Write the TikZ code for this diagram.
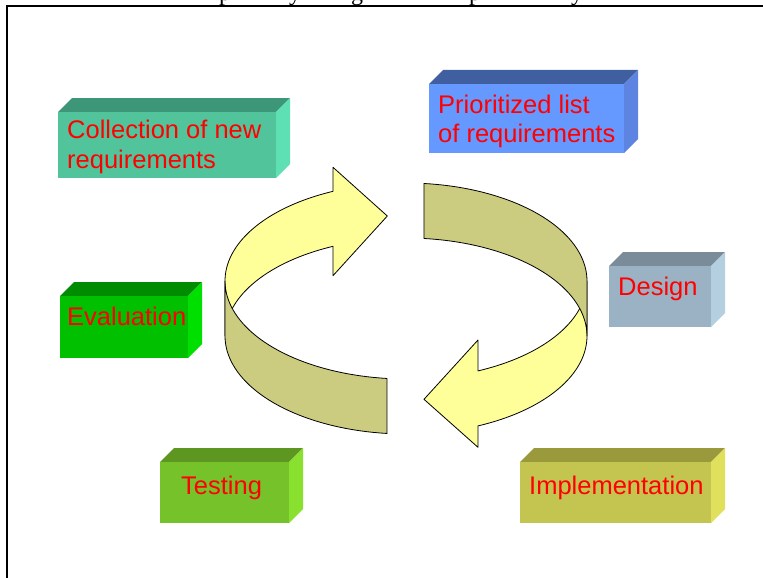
\documentclass[tikz,border=0pt]{standalone}
\usepackage{fontspec}
\setmainfont{Liberation Sans}
\newfontfamily\titlerm{Liberation Serif}
\definecolor{collF}{RGB}{82,196,156}
\definecolor{collT}{RGB}{62,150,120}
\definecolor{collS}{RGB}{94,224,180}
\definecolor{prioF}{RGB}{102,153,255}
\definecolor{prioT}{RGB}{63,95,160}
\definecolor{prioS}{RGB}{92,132,224}
\definecolor{desF}{RGB}{155,178,196}
\definecolor{desT}{RGB}{122,140,153}
\definecolor{desS}{RGB}{180,208,224}
\definecolor{evalF}{RGB}{0,192,0}
\definecolor{evalT}{RGB}{0,140,0}
\definecolor{evalS}{RGB}{0,224,0}
\definecolor{testF}{RGB}{118,194,42}
\definecolor{testT}{RGB}{94,150,34}
\definecolor{testS}{RGB}{138,224,46}
\definecolor{implF}{RGB}{196,196,80}
\definecolor{implT}{RGB}{154,154,60}
\definecolor{implS}{RGB}{224,224,92}
\definecolor{ribbonY}{RGB}{255,255,153}
\definecolor{ribbonO}{RGB}{204,204,128}
\tikzset{
  lbl/.style={anchor=base west, inner sep=0pt, text=red, font=\fontsize{25.5}{29}\selectfont},
  band/.style={draw=black, line width=0.8pt, line join=round},
  frontface/.style={anchor=north west, inner sep=0pt, outer sep=0pt}
}
% #1 name, #2 x1, #3 y1, #4 x2, #5 y2, #6 front, #7 top, #8 side
\newcommand\cuboidbox[8]{%
  \fill[#7] (#2,#3) -- (#2+14,#3-14) -- (#4+14,#3-14) -- (#4,#3) -- cycle;
  \fill[#8] (#4,#3) -- (#4+14,#3-14) -- (#4+14,#5-14) -- (#4,#5) -- cycle;
  \node[frontface, fill=#6, minimum width=#4pt-#2pt, minimum height=#5pt-#3pt] (#1) at (#2,#3) {};
}
\begin{document}
\begin{tikzpicture}[x=1pt,y=-1pt]
\useasboundingbox (0,0) rectangle (763,578);
\fill[white] (0,0) rectangle (763,578);

% cut-off title descenders
\begin{scope}
\clip (0,0) rectangle (763,20);
\node[anchor=base west, inner sep=0pt, font=\titlerm\fontsize{24}{28}\selectfont] (t1) at (219,1) {p};
\node[anchor=base west, inner sep=0pt, font=\titlerm\fontsize{24}{28}\selectfont] (t2) at (289,1) {y};
\node[anchor=base west, inner sep=0pt, font=\titlerm\fontsize{24}{28}\selectfont] (t3) at (351,1) {g};
\node[anchor=base west, inner sep=0pt, font=\titlerm\fontsize{24}{28}\selectfont] (t4) at (469,1) {p};
\node[anchor=base west, inner sep=0pt, font=\titlerm\fontsize{24}{28}\selectfont] (t5) at (571,1) {y};
\end{scope}

% frame
\draw[line width=2pt] (7,600) -- (7,6) -- (780,6);

% boxes
\cuboidbox{coll}{58}{112}{276}{178}{collF}{collT}{collS}
\cuboidbox{prio}{429}{84}{624}{153}{prioF}{prioT}{prioS}
\cuboidbox{des}{609}{266}{711}{327}{desF}{desT}{desS}
\cuboidbox{eval}{60}{296}{188}{358}{evalF}{evalT}{evalS}
\cuboidbox{test}{160}{462}{289}{523}{testF}{testT}{testS}
\cuboidbox{impl}{520}{462}{711}{523}{implF}{implT}{implS}

\node[lbl] (collA) at (67,138) {Collection of new};
\node[lbl] (collB) at (67,168) {requirements};
\node[lbl] (prioA) at (438,113) {Prioritized list};
\node[lbl] (prioB) at (438,142) {of requirements};
\node[lbl] (desL) at (618,295) {Design};
\node[lbl] (evalL) at (67,325) {Evaluation};
\node[lbl] (testL) at (181,494) {Testing};
\node[lbl] (implL) at (529,494) {Implementation};

% circular ribbon arrows: ellipse centre (406,281), a=181, b=98, wall height 55
\draw[band, fill=ribbonY]
  plot[domain=113.79:180, samples=40] ({406+181*cos(\x)},{281-98*sin(\x)})
  -- (225,336)
  -- plot[domain=180:113.79, samples=40] ({406+181*cos(\x)},{336-98*sin(\x)})
  -- (333,275.7) -- (387.3,216) -- (333,167.3) -- cycle;
\draw[band, fill=ribbonO]
  plot[domain=180:263.97, samples=40] ({406+181*cos(\x)},{281-98*sin(\x)})
  -- plot[domain=263.97:180, samples=40] ({406+181*cos(\x)},{336-98*sin(\x)})
  -- cycle;
\draw[band, fill=ribbonY]
  plot[domain=360:293.44, samples=40] ({406+181*cos(\x)},{336-98*sin(\x)})
  -- (478,447.3) -- (424,399.3) -- (478,340)
  -- plot[domain=293.44:360, samples=40] ({406+181*cos(\x)},{281-98*sin(\x)})
  -- cycle;
\draw[band, fill=ribbonO]
  plot[domain=84.3:0, samples=40] ({406+181*cos(\x)},{281-98*sin(\x)})
  -- plot[domain=0:84.3, samples=40] ({406+181*cos(\x)},{336-98*sin(\x)})
  -- cycle;
\end{tikzpicture}
\end{document}
